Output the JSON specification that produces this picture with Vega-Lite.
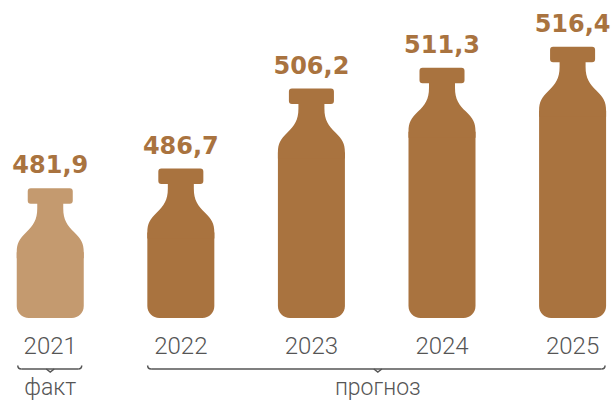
{
  "$schema": "https://vega.github.io/schema/vega-lite/v6.json",
  "width": 613,
  "height": 403,
  "autosize": {"type": "fit", "contains": "padding"},
  "padding": 0,
  "background": "#ffffff",
  "config": {"view": {"stroke": null}},
  "datasets": {
    "bottles": [
      {"year": 2021, "value": 481.9, "label": "481,9", "type": "факт"},
      {"year": 2022, "value": 486.7, "label": "486,7", "type": "прогноз"},
      {"year": 2023, "value": 506.2, "label": "506,2", "type": "прогноз"},
      {"year": 2024, "value": 511.3, "label": "511,3", "type": "прогноз"},
      {"year": 2025, "value": 516.4, "label": "516,4", "type": "прогноз"}
    ],
    "braces": [
      {"name": "факт", "start": 2020.7514, "end": 2021.241, "mid": 2021},
      {"name": "прогноз", "start": 2021.7458, "end": 2025.2486, "mid": 2023.5085}
    ]
  },
  "layer": [
    {
      "data": {"name": "bottles"},
      "mark": {"type": "bar", "width": 67, "yOffset": 64, "cornerRadiusBottomLeft": 12, "cornerRadiusBottomRight": 12},
      "encoding": {
        "x": {"field": "year", "type": "quantitative", "scale": {"domain": [2020.6535, 2025.2712], "nice": false, "zero": false}, "axis": null},
        "y": {"field": "value", "type": "quantitative", "scale": {"domain": [429.59, 527.78], "nice": false, "zero": false}, "axis": null},
        "y2": {"datum": 450.3},
        "color": {"field": "type", "type": "nominal", "scale": {"domain": ["факт", "прогноз"], "range": ["#c49a6f", "#a9733f"]}, "legend": null}
      }
    },
    {
      "data": {"name": "bottles"},
      "mark": {"type": "point", "filled": true, "opacity": 1, "size": 4489, "strokeWidth": 0,
        "shape": "M -0.582 0 L 0.582 0 Q 0.672 0 0.672 0.09 L 0.672 0.373 Q 0.672 0.463 0.582 0.463 L 0.388 0.463 L 0.388 0.597 C 0.388 0.955 0.507 1.104 0.716 1.313 C 0.925 1.522 1 1.642 1 1.91 L 1 2.09 L -1 2.09 L -1 1.91 C -1 1.642 -0.925 1.522 -0.716 1.313 C -0.507 1.104 -0.388 0.955 -0.388 0.597 L -0.388 0.463 L -0.582 0.463 Q -0.672 0.463 -0.672 0.373 L -0.672 0.09 Q -0.672 0 -0.582 0 Z"},
      "encoding": {
        "x": {"field": "year", "type": "quantitative"},
        "y": {"field": "value", "type": "quantitative"},
        "color": {"field": "type", "type": "nominal", "legend": null}
      }
    },
    {
      "data": {"name": "bottles"},
      "mark": {"type": "text", "dy": -15, "baseline": "alphabetic", "align": "center", "font": "DejaVu Sans", "fontWeight": "bold", "fontSize": 24, "color": "#a9733f"},
      "encoding": {
        "x": {"field": "year", "type": "quantitative"},
        "y": {"field": "value", "type": "quantitative"},
        "text": {"field": "label", "type": "nominal"}
      }
    },
    {
      "data": {"name": "bottles"},
      "mark": {"type": "text", "dy": 36, "baseline": "alphabetic", "align": "center", "font": "Roboto", "fontWeight": 300, "fontSize": 24, "color": "#555555"},
      "encoding": {
        "x": {"field": "year", "type": "quantitative"},
        "y": {"datum": 450.3, "type": "quantitative"},
        "text": {"field": "year", "type": "nominal"}
      }
    },
    {
      "data": {"name": "braces"},
      "mark": {"type": "rule", "xOffset": 3.5, "x2Offset": -3.5, "color": "#555555", "strokeWidth": 1.5},
      "encoding": {
        "x": {"field": "start", "type": "quantitative"},
        "x2": {"field": "end"},
        "y": {"datum": 437.874, "type": "quantitative"}
      }
    },
    {
      "data": {"name": "braces"},
      "mark": {"type": "point", "filled": false, "size": 4, "stroke": "#555555", "strokeWidth": 1.5, "opacity": 1, "shape": "M 0 -3.5 Q 0 0 3.5 0"},
      "encoding": {
        "x": {"field": "start", "type": "quantitative"},
        "y": {"datum": 437.874, "type": "quantitative"}
      }
    },
    {
      "data": {"name": "braces"},
      "mark": {"type": "point", "filled": false, "size": 4, "stroke": "#555555", "strokeWidth": 1.5, "opacity": 1, "shape": "M 0 -3.5 Q 0 0 -3.5 0"},
      "encoding": {
        "x": {"field": "end", "type": "quantitative"},
        "y": {"datum": 437.874, "type": "quantitative"}
      }
    },
    {
      "data": {"name": "braces"},
      "mark": {"type": "point", "filled": false, "size": 4, "stroke": "#555555", "strokeWidth": 1.5, "opacity": 1, "shape": "M -4 0 L 0 3 L 4 0"},
      "encoding": {
        "x": {"field": "mid", "type": "quantitative"},
        "y": {"datum": 437.874, "type": "quantitative"}
      }
    },
    {
      "data": {"name": "braces"},
      "mark": {"type": "text", "dy": 26, "baseline": "alphabetic", "align": "center", "font": "Roboto", "fontWeight": 300, "fontSize": 23, "color": "#555555"},
      "encoding": {
        "x": {"field": "mid", "type": "quantitative"},
        "y": {"datum": 437.874, "type": "quantitative"},
        "text": {"field": "name", "type": "nominal"}
      }
    }
  ]
}
